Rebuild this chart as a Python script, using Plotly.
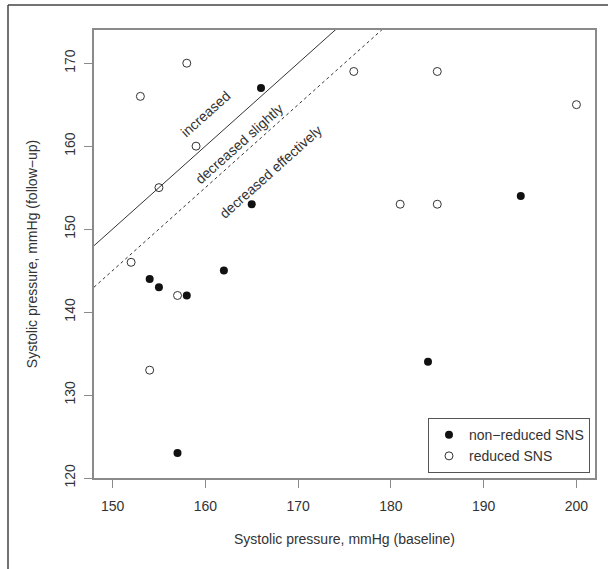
import plotly.graph_objects as go

# Data
nonreduced_baseline = [166, 165, 154, 155, 158, 162, 157, 184, 194]
nonreduced_followup = [167, 153, 144, 143, 142, 145, 123, 134, 154]
reduced_baseline = [153, 158, 159, 155, 152, 157, 154, 176, 185, 200, 181, 185]
reduced_followup = [166, 170, 160, 155, 146, 142, 133, 169, 169, 165, 153, 153]

x_ticks = [150, 160, 170, 180, 190, 200]
y_ticks = [120, 130, 140, 150, 160, 170]
x_range = [148, 202]
y_range = [120, 174]

line_offsets = [0, 5]          # y = x - offset
line_dashes = ["solid", "3px,3px"]

region_labels = ["increased", "decreased slightly", "decreased effectively"]
region_label_x = [160, 163.6, 167]
region_label_y = [163.9, 160.3, 156.9]

FONT = "Liberation Sans, Arial, sans-serif"
TXT = "#333333"
AX = "#8a8a8a"

fig = go.Figure()

for off, dash in zip(line_offsets, line_dashes):
    xs = [x_range[0], x_range[1]]
    fig.add_trace(go.Scatter(x=xs, y=[v - off for v in xs], mode="lines",
                             line=dict(color="#333333", width=1, dash=dash),
                             showlegend=False, hoverinfo="skip"))

fig.add_trace(go.Scatter(x=nonreduced_baseline, y=nonreduced_followup, mode="markers",
                         name="non\u2212reduced SNS",
                         marker=dict(symbol="circle", size=8, color="#111111",
                                     line=dict(width=0))))
fig.add_trace(go.Scatter(x=reduced_baseline, y=reduced_followup, mode="markers",
                         name="reduced SNS",
                         marker=dict(symbol="circle-open", size=8, color="#333333",
                                     line=dict(width=1))))

for t, x, y in zip(region_labels, region_label_x, region_label_y):
    fig.add_annotation(x=x, y=y, text=t, showarrow=False, textangle=-41.8,
                       font=dict(family=FONT, size=14, color=TXT))

# outer frame (top and left edges visible)
L, T = 94, 30
W, H = 501, 448
px = lambda p: (p - L) / W
py = lambda p: (T + H - p) / H
fig.add_shape(type="line", xref="paper", yref="paper", x0=px(8), x1=px(8), y0=py(569), y1=py(5),
              line=dict(color="#444444", width=1.5), layer="above")
fig.add_shape(type="line", xref="paper", yref="paper", x0=px(8), x1=px(608), y0=py(5), y1=py(5),
              line=dict(color="#444444", width=1.5), layer="above")

fig.update_layout(
    width=608, height=569,
    margin=dict(l=94, r=13, t=30, b=91, autoexpand=False),
    paper_bgcolor="white", plot_bgcolor="white",
    font=dict(family=FONT, size=14, color=TXT),
    xaxis=dict(range=x_range, tickvals=x_ticks, ticks="outside", ticklen=8, tickcolor=AX,
               showgrid=False, zeroline=False, showline=True, linecolor=AX, linewidth=1.5,
               mirror=True, ticklabelstandoff=6, automargin=False,
               title=dict(text="Systolic pressure, mmHg (baseline)", standoff=22,
                          font=dict(size=14, color=TXT))),
    yaxis=dict(range=y_range, tickvals=y_ticks, ticks="outside", ticklen=8, tickcolor=AX,
               showgrid=False, zeroline=False, showline=True, linecolor=AX, linewidth=1.5,
               mirror=True, tickangle=-90, ticklabelstandoff=4, automargin=False,
               title=dict(text="Systolic pressure, mmHg (follow\u2212up)", standoff=21,
                          font=dict(size=14, color=TXT))),
    legend=dict(x=0.99, y=0.011, xanchor="right", yanchor="bottom",
                bordercolor="#555555", borderwidth=1, bgcolor="white",
                font=dict(size=14, color=TXT), itemwidth=30, tracegroupgap=0),
    showlegend=True,
)

fig.write_html("out.html", config={"displayModeBar": False},
               post_script="document.body.style.margin='0px';")
